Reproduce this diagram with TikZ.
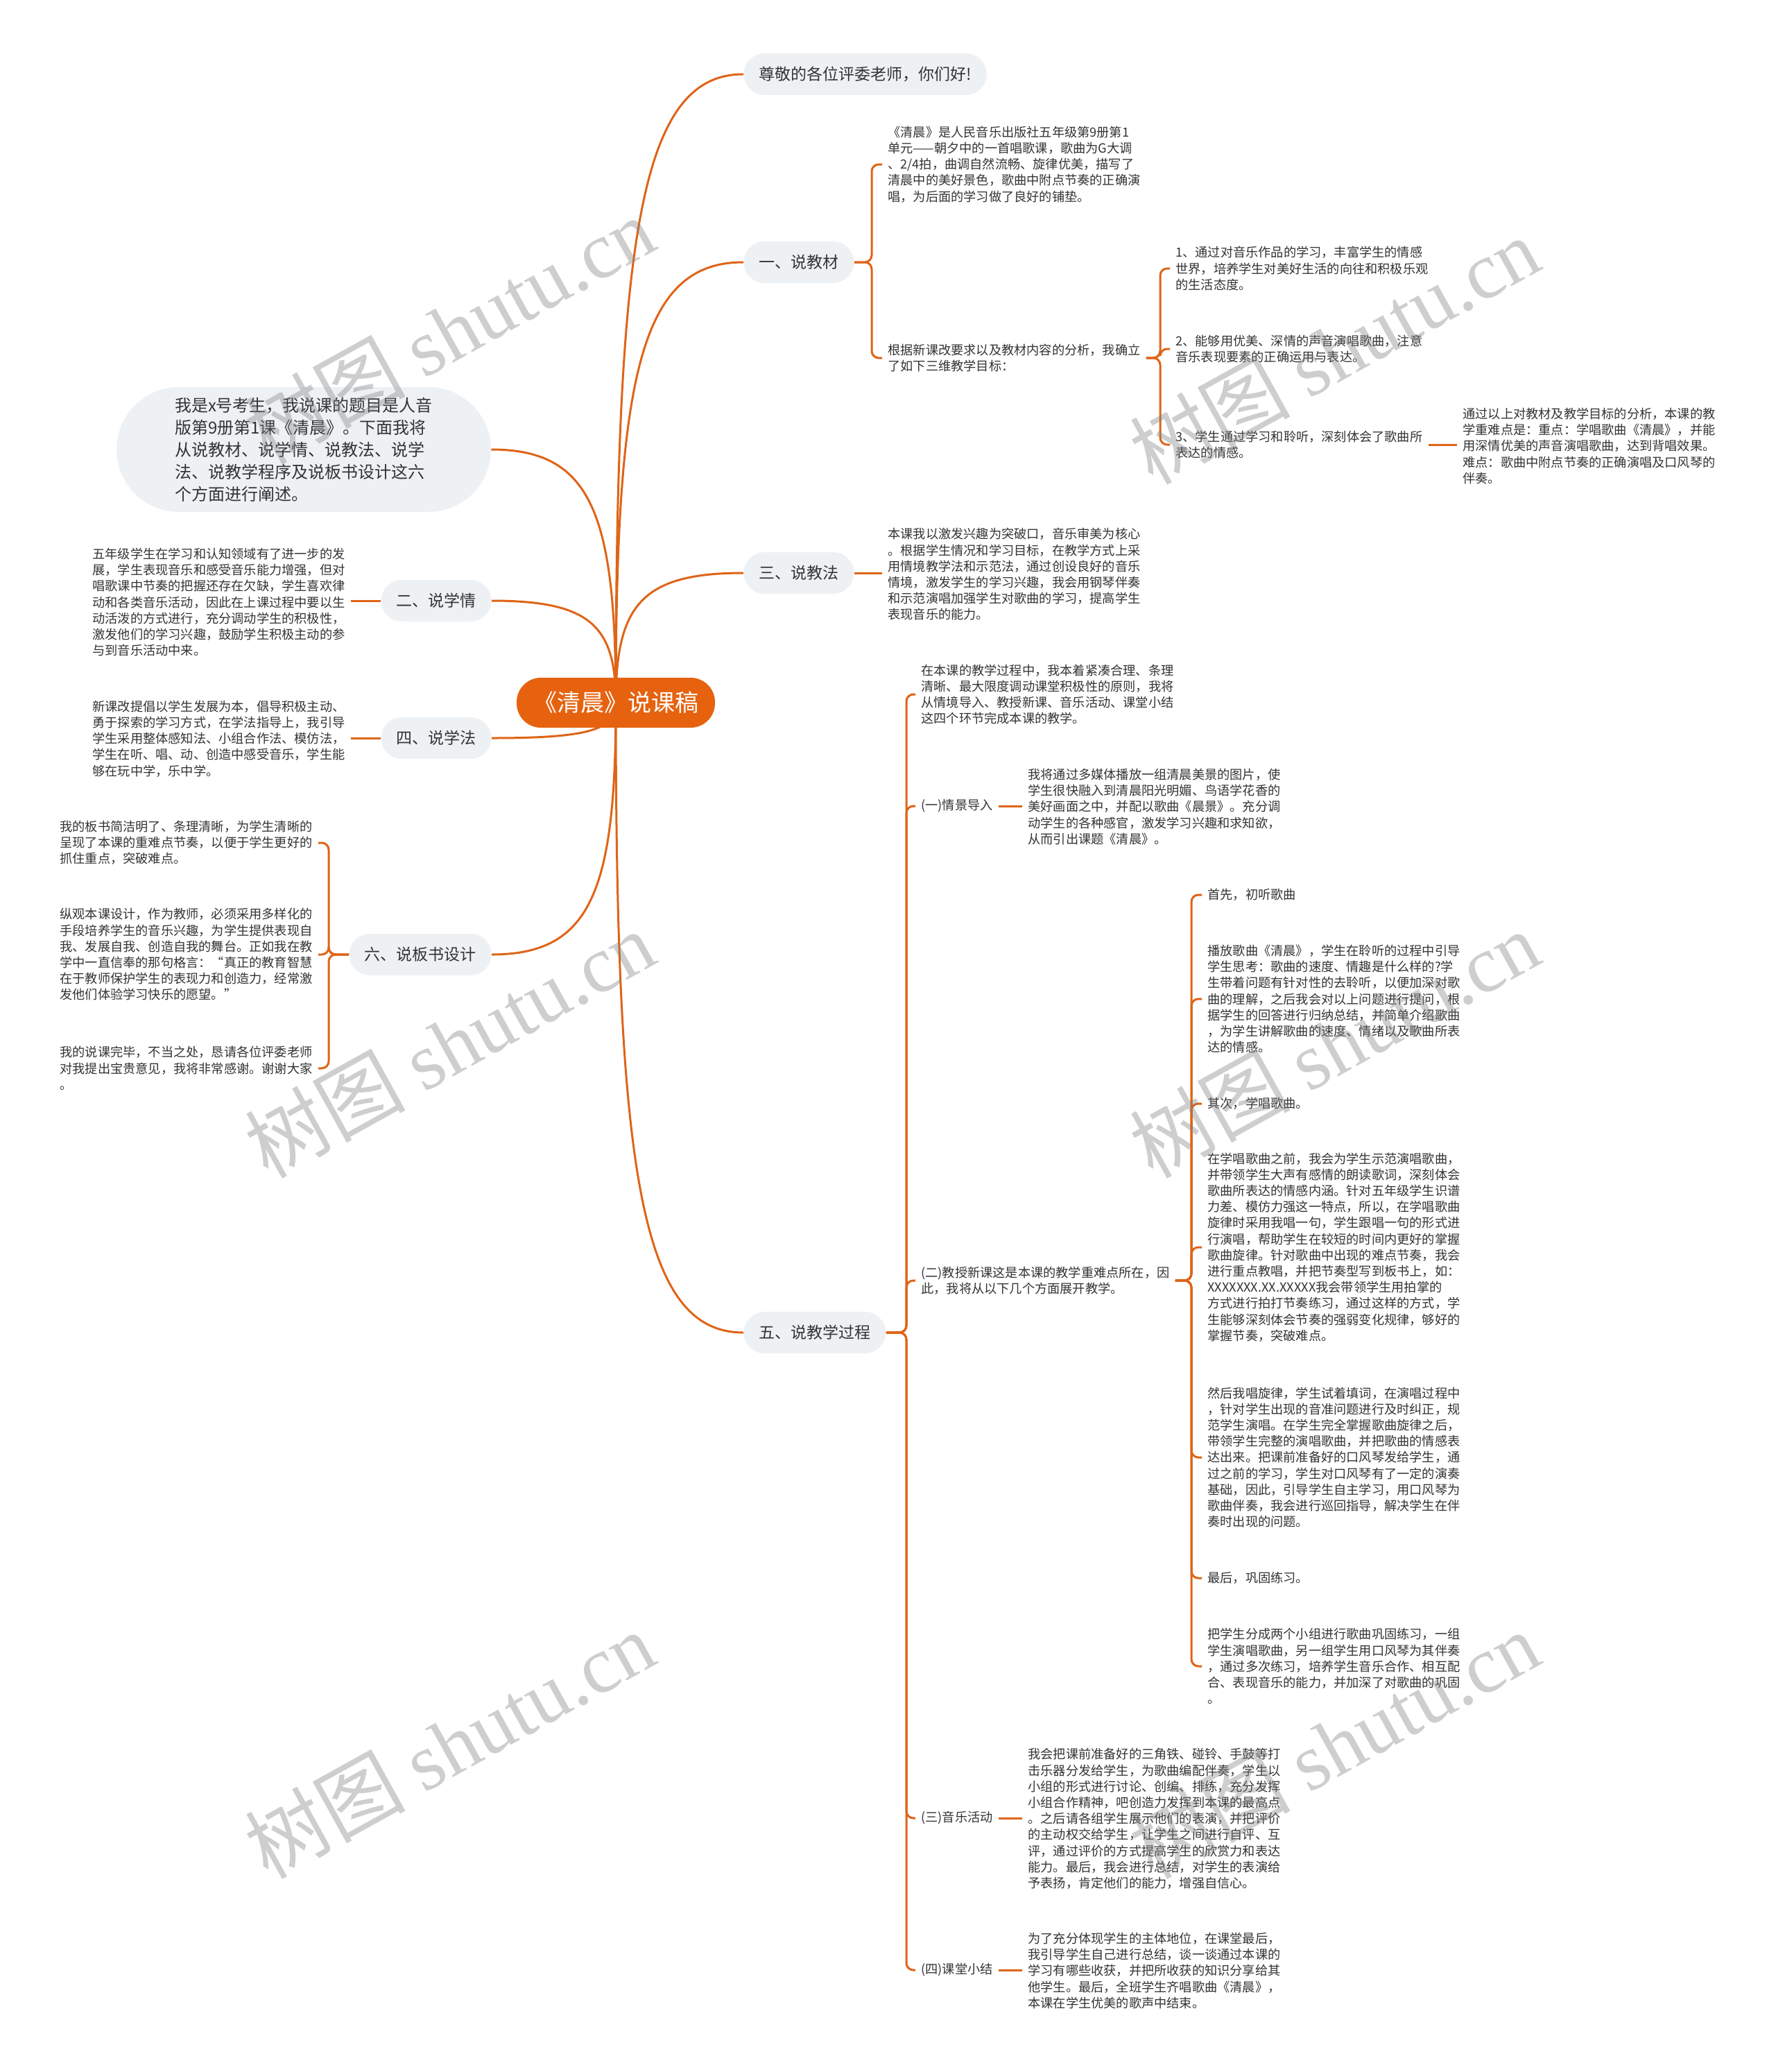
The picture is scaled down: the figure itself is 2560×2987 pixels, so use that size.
\documentclass[tikz,border=0pt]{standalone}
\usepackage{fontspec}
\setmainfont{Noto Sans CJK SC}
\newfontfamily\wmlatin{Liberation Serif}
\usetikzlibrary{calc,backgrounds}
\definecolor{brorange}{HTML}{DF6417}
\definecolor{rootorange}{HTML}{E6620F}
\definecolor{pillgray}{HTML}{EEF1F4}
\definecolor{txt}{HTML}{333333}
\begin{document}
\begin{tikzpicture}[x=0.5pt,y=-0.5pt,
  pill/.style={fill=pillgray, rounded corners=15pt, minimum height=30pt, inner xsep=11pt, inner ysep=0pt, font=\fontsize{11.5}{13}\selectfont, text=txt},
  bubble/.style={fill=pillgray, rounded corners=45pt, minimum width=270pt, minimum height=90pt, align=left, font=\fontsize{12}{16}\selectfont, text=txt},
  rootnode/.style={fill=rootorange, rounded corners=17.5pt, minimum height=36pt, inner xsep=12pt, font=\fontsize{17}{20}\selectfont, text=white},
  para/.style={align=left, inner xsep=4pt, inner ysep=2pt, font=\fontsize{9.1}{11.6}\selectfont, text=txt},
  br/.style={draw=brorange, line width=1.5pt},
  brc/.style={br, rounded corners=5pt},
  wm/.style={text=gray, text opacity=0.38, font=\fontsize{58}{60}\selectfont, rotate=29}
]
\useasboundingbox (0,0) rectangle (2560,2987);
% root and first level
\node[rootnode] (R) at (888,1013) {《清晨》说课稿};
\node[pill, anchor=west] (p0) at (1072,107) {尊敬的各位评委老师，你们好!};
\node[pill, anchor=west] (p1) at (1072,378) {一、说教材};
\node[pill, anchor=west] (p3) at (1072,826) {三、说教法};
\node[pill, anchor=west] (p5) at (1072,1921) {五、说教学过程};
\node[bubble] (b0) at (438,648) {我是x号考生，我说课的题目是人音\\版第9册第1课《清晨》。下面我将\\从说教材、说学情、说教法、说学\\法、说教学程序及说板书设计这六\\个方面进行阐述。};
\node[pill, anchor=east] (p2) at (709,866) {二、说学情};
\node[pill, anchor=east] (p4) at (709,1064) {四、说学法};
\node[pill, anchor=east] (p6) at (709,1376) {六、说板书设计};
% 一
\node[para, anchor=west] (t1a) at (1272,237) {《清晨》是人民音乐出版社五年级第9册第1\\单元——朝夕中的一首唱歌课，歌曲为G大调\\、2/4拍，曲调自然流畅、旋律优美，描写了\\清晨中的美好景色，歌曲中附点节奏的正确演\\唱，为后面的学习做了良好的铺垫。};
\node[para, anchor=west] (t1b) at (1272,516) {根据新课改要求以及教材内容的分析，我确立\\了如下三维教学目标：};
\node[para, anchor=west] (g1) at (1687,387) {1、通过对音乐作品的学习，丰富学生的情感\\世界，培养学生对美好生活的向往和积极乐观\\的生活态度。};
\node[para, anchor=west] (g2) at (1687,503) {2、能够用优美、深情的声音演唱歌曲，注意\\音乐表现要素的正确运用与表达。};
\node[para, anchor=west] (g3) at (1687,641) {3、学生通过学习和聆听，深刻体会了歌曲所\\表达的情感。};
\node[para, anchor=west] (zd) at (2101,643) {通过以上对教材及教学目标的分析，本课的教\\学重难点是：重点：学唱歌曲《清晨》，并能\\用深情优美的声音演唱歌曲，达到背唱效果。\\难点：歌曲中附点节奏的正确演唱及口风琴的\\伴奏。};
% 三
\node[para, anchor=west] (t3) at (1272,828) {本课我以激发兴趣为突破口，音乐审美为核心\\。根据学生情况和学习目标，在教学方式上采\\用情境教学法和示范法，通过创设良好的音乐\\情境，激发学生的学习兴趣，我会用钢琴伴奏\\和示范演唱加强学生对歌曲的学习，提高学生\\表现音乐的能力。};
% 二 四 六
\node[para, anchor=west] (t2) at (125,868) {五年级学生在学习和认知领域有了进一步的发\\展，学生表现音乐和感受音乐能力增强，但对\\唱歌课中节奏的把握还存在欠缺，学生喜欢律\\动和各类音乐活动，因此在上课过程中要以生\\动活泼的方式进行，充分调动学生的积极性，\\激发他们的学习兴趣，鼓励学生积极主动的参\\与到音乐活动中来。};
\node[para, anchor=west] (t4) at (125,1065) {新课改提倡以学生发展为本，倡导积极主动、\\勇于探索的学习方式，在学法指导上，我引导\\学生采用整体感知法、小组合作法、模仿法，\\学生在听、唱、动、创造中感受音乐，学生能\\够在玩中学，乐中学。};
\node[para, anchor=west] (t6a) at (78,1215) {我的板书简洁明了、条理清晰，为学生清晰的\\呈现了本课的重难点节奏，以便于学生更好的\\抓住重点，突破难点。};
\node[para, anchor=west] (t6b) at (78,1376) {纵观本课设计，作为教师，必须采用多样化的\\手段培养学生的音乐兴趣，为学生提供表现自\\我、发展自我、创造自我的舞台。正如我在教\\学中一直信奉的那句格言：“真正的教育智慧\\在于教师保护学生的表现力和创造力，经常激\\发他们体验学习快乐的愿望。”};
\node[para, anchor=west] (t6c) at (78,1540) {我的说课完毕，不当之处，恳请各位评委老师\\对我提出宝贵意见，我将非常感谢。谢谢大家\\。};
% 五
\node[para, anchor=west] (t5) at (1320,1001) {在本课的教学过程中，我本着紧凑合理、条理\\清晰、最大限度调动课堂积极性的原则，我将\\从情境导入、教授新课、音乐活动、课堂小结\\这四个环节完成本课的教学。};
\node[para, anchor=west] (l51) at (1320,1162) {(一)情景导入};
\node[para, anchor=west] (t51) at (1474,1163) {我将通过多媒体播放一组清晨美景的图片，使\\学生很快融入到清晨阳光明媚、鸟语学花香的\\美好画面之中，并配以歌曲《晨景》。充分调\\动学生的各种感官，激发学习兴趣和求知欲，\\从而引出课题《清晨》。};
\node[para, anchor=west] (l52) at (1320,1846) {(二)教授新课这是本课的教学重难点所在，因\\此，我将从以下几个方面展开教学。};
\node[para, anchor=west] (s1) at (1733,1290) {首先，初听歌曲};
\node[para, anchor=west] (s2) at (1733,1440) {播放歌曲《清晨》，学生在聆听的过程中引导\\学生思考：歌曲的速度、情趣是什么样的?学\\生带着问题有针对性的去聆听，以便加深对歌\\曲的理解，之后我会对以上问题进行提问，根\\据学生的回答进行归纳总结，并简单介绍歌曲\\，为学生讲解歌曲的速度、情绪以及歌曲所表\\达的情感。};
\node[para, anchor=west] (s3) at (1733,1591) {其次，学唱歌曲。};
\node[para, anchor=west] (s4) at (1733,1798) {在学唱歌曲之前，我会为学生示范演唱歌曲，\\并带领学生大声有感情的朗读歌词，深刻体会\\歌曲所表达的情感内涵。针对五年级学生识谱\\力差、模仿力强这一特点，所以，在学唱歌曲\\旋律时采用我唱一句，学生跟唱一句的形式进\\行演唱，帮助学生在较短的时间内更好的掌握\\歌曲旋律。针对歌曲中出现的难点节奏，我会\\进行重点教唱，并把节奏型写到板书上，如：\\XXXXXXX.XX.XXXXX我会带领学生用拍掌的\\方式进行拍打节奏练习，通过这样的方式，学\\生能够深刻体会节奏的强弱变化规律，够好的\\掌握节奏，突破难点。};
\node[para, anchor=west] (s5) at (1733,2101) {然后我唱旋律，学生试着填词，在演唱过程中\\，针对学生出现的音准问题进行及时纠正，规\\范学生演唱。在学生完全掌握歌曲旋律之后，\\带领学生完整的演唱歌曲，并把歌曲的情感表\\达出来。把课前准备好的口风琴发给学生，通\\过之前的学习，学生对口风琴有了一定的演奏\\基础，因此，引导学生自主学习，用口风琴为\\歌曲伴奏，我会进行巡回指导，解决学生在伴\\奏时出现的问题。};
\node[para, anchor=west] (s6) at (1733,2275) {最后，巩固练习。};
\node[para, anchor=west] (s7) at (1733,2402) {把学生分成两个小组进行歌曲巩固练习，一组\\学生演唱歌曲，另一组学生用口风琴为其伴奏\\，通过多次练习，培养学生音乐合作、相互配\\合、表现音乐的能力，并加深了对歌曲的巩固\\。};
\node[para, anchor=west] (l53) at (1320,2621) {(三)音乐活动};
\node[para, anchor=west] (t53) at (1474,2622) {我会把课前准备好的三角铁、碰铃、手鼓等打\\击乐器分发给学生，为歌曲编配伴奏，学生以\\小组的形式进行讨论、创编、排练，充分发挥\\小组合作精神，吧创造力发挥到本课的最高点\\。之后请各组学生展示他们的表演，并把评价\\的主动权交给学生，让学生之间进行自评、互\\评，通过评价的方式提高学生的欣赏力和表达\\能力。最后，我会进行总结，对学生的表演给\\予表扬，肯定他们的能力，增强自信心。};
\node[para, anchor=west] (l54) at (1320,2840) {(四)课堂小结};
\node[para, anchor=west] (t54) at (1474,2841) {为了充分体现学生的主体地位，在课堂最后，\\我引导学生自己进行总结，谈一谈通过本课的\\学习有哪些收获，并把所收获的知识分享给其\\他学生。最后，全班学生齐唱歌曲《清晨》，\\本课在学生优美的歌声中结束。};
% spines
\coordinate (sp1) at (1257,0);
\coordinate (spg) at (1673,0);
\coordinate (sp5) at (1307,0);
\coordinate (sp52) at (1718,0);
\coordinate (sp6) at (474,0);
\begin{pgfonlayer}{background}
\fill[white] (0,0) rectangle (2560,2987);
% root curves
\foreach \t in {p0,p1,p3,p5}{
  \draw[br] (R.center) .. controls ($(R.center)!0.75!(R.center|-\t.west)$) and ($(\t.west)!0.8!(R.center|-\t.west)$) .. (\t.west);
}
\foreach \t in {b0,p2,p4,p6}{
  \draw[br] (R.center) .. controls ($(R.center)!0.75!(R.center|-\t.east)$) and ($(\t.east)!0.8!(R.center|-\t.east)$) .. (\t.east);
}
% 一
\foreach \c in {t1a,t1b}{
  \draw[brc] (p1.east) -- (p1.east -| sp1) -- (sp1 |- \c.west) -- (\c.west);
}
\foreach \c in {g1,g2,g3}{
  \draw[brc] (t1b.east) -- (t1b.east -| spg) -- (spg |- \c.west) -- (\c.west);
}
\draw[br] (g3.east) -- (zd.west |- g3.east);
% 三
\draw[br] (p3.east) -- (t3.west |- p3.east);
% 二 四
\draw[br] (p2.west) -- (t2.east |- p2.west);
\draw[br] (p4.west) -- (t4.east |- p4.west);
% 六
\foreach \c in {t6a,t6b,t6c}{
  \draw[brc] (p6.west) -- (p6.west -| sp6) -- (sp6 |- \c.east) -- (\c.east);
}
% 五
\foreach \c in {t5,l51,l52,l53,l54}{
  \draw[brc] (p5.east) -- (p5.east -| sp5) -- (sp5 |- \c.west) -- (\c.west);
}
\draw[br] (l51.east) -- (t51.west |- l51.east);
\draw[br] (l53.east) -- (t53.west |- l53.east);
\draw[br] (l54.east) -- (t54.west |- l54.east);
\foreach \c in {s1,s2,s3,s4,s5,s6,s7}{
  \draw[brc] (l52.east) -- (l52.east -| sp52) -- (sp52 |- \c.west) -- (\c.west);
}
\end{pgfonlayer}
% watermarks
\node[wm] (w1) at (648,476) {树图 {\wmlatin shutu.cn}};
\node[wm] (w2) at (1924,505) {树图 {\wmlatin shutu.cn}};
\node[wm] (w3) at (648,1505) {树图 {\wmlatin shutu.cn}};
\node[wm] (w4) at (1924,1505) {树图 {\wmlatin shutu.cn}};
\node[wm] (w5) at (648,2515) {树图 {\wmlatin shutu.cn}};
\node[wm] (w6) at (1924,2515) {树图 {\wmlatin shutu.cn}};
\end{tikzpicture}
\end{document}
